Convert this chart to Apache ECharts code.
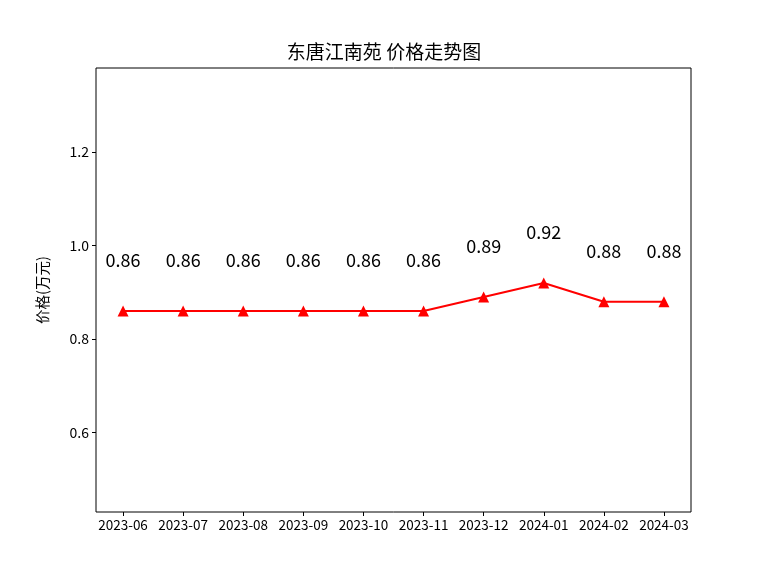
<!DOCTYPE html>
<html><head><meta charset="utf-8">
<script src="https://cdn.jsdelivr.net/npm/echarts@6/dist/echarts.min.js"></script>
<style>html,body{margin:0;padding:0;background:#fff}#c{width:768px;height:576px}</style>
</head><body><div id="c"></div>
<script>
const titleText = '东唐江南苑 价格走势图';
const yName = '价格(万元)';
const months = ['2023-06','2023-07','2023-08','2023-09','2023-10','2023-11','2023-12','2024-01','2024-02','2024-03'];
const prices = [0.86,0.86,0.86,0.86,0.86,0.86,0.89,0.92,0.88,0.88];
const yTicks = [0.6,0.8,1.0,1.2];

const FONT = '"Noto Sans CJK SC", sans-serif';
const chart = echarts.init(document.getElementById('c'), null, {renderer:'canvas'});
const xIdx = months.map((m,i)=>i);
chart.setOption({
  animation:false,
  backgroundColor:'#fff',
  title:{text:titleText,left:'center',top:37,textStyle:{fontFamily:FONT,fontSize:19,fontWeight:'normal',color:'#000'}},
  grid:{left:96,top:68,width:595,height:444,show:true,borderColor:'#000',borderWidth:1,backgroundColor:'transparent'},
  xAxis:{type:'value',min:-0.45,max:9.45,position:'bottom',
    axisLine:{show:false,onZero:false},
    splitLine:{show:false},
    axisTick:{show:true,customValues:xIdx,length:4,lineStyle:{color:'#000'}},
    axisLabel:{customValues:xIdx,formatter:v=>months[Math.round(v)],fontFamily:FONT,fontSize:13.5,color:'#000',margin:6}
  },
  yAxis:{type:'value',min:0.43,max:1.38,position:'left',name:yName,nameLocation:'middle',nameGap:46,
    nameTextStyle:{fontFamily:FONT,fontSize:14.5,color:'#000'},
    axisLine:{show:false,onZero:false},splitLine:{show:false},
    axisTick:{show:true,customValues:yTicks,length:4,lineStyle:{color:'#000'}},
    axisLabel:{customValues:yTicks,formatter:v=>v.toFixed(1),fontFamily:FONT,fontSize:14,color:'#000',margin:7}
  },
  series:[{type:'line',data:prices.map((p,i)=>[i,p]),
    lineStyle:{color:'#ff0000',width:2},itemStyle:{color:'#ff0000'},
    symbol:'triangle',symbolSize:11,
    label:{show:true,position:'top',distance:36,formatter:p=>p.value[1].toFixed(2),fontFamily:FONT,fontSize:18,color:'#000'}
  }]
});
</script></body></html>
